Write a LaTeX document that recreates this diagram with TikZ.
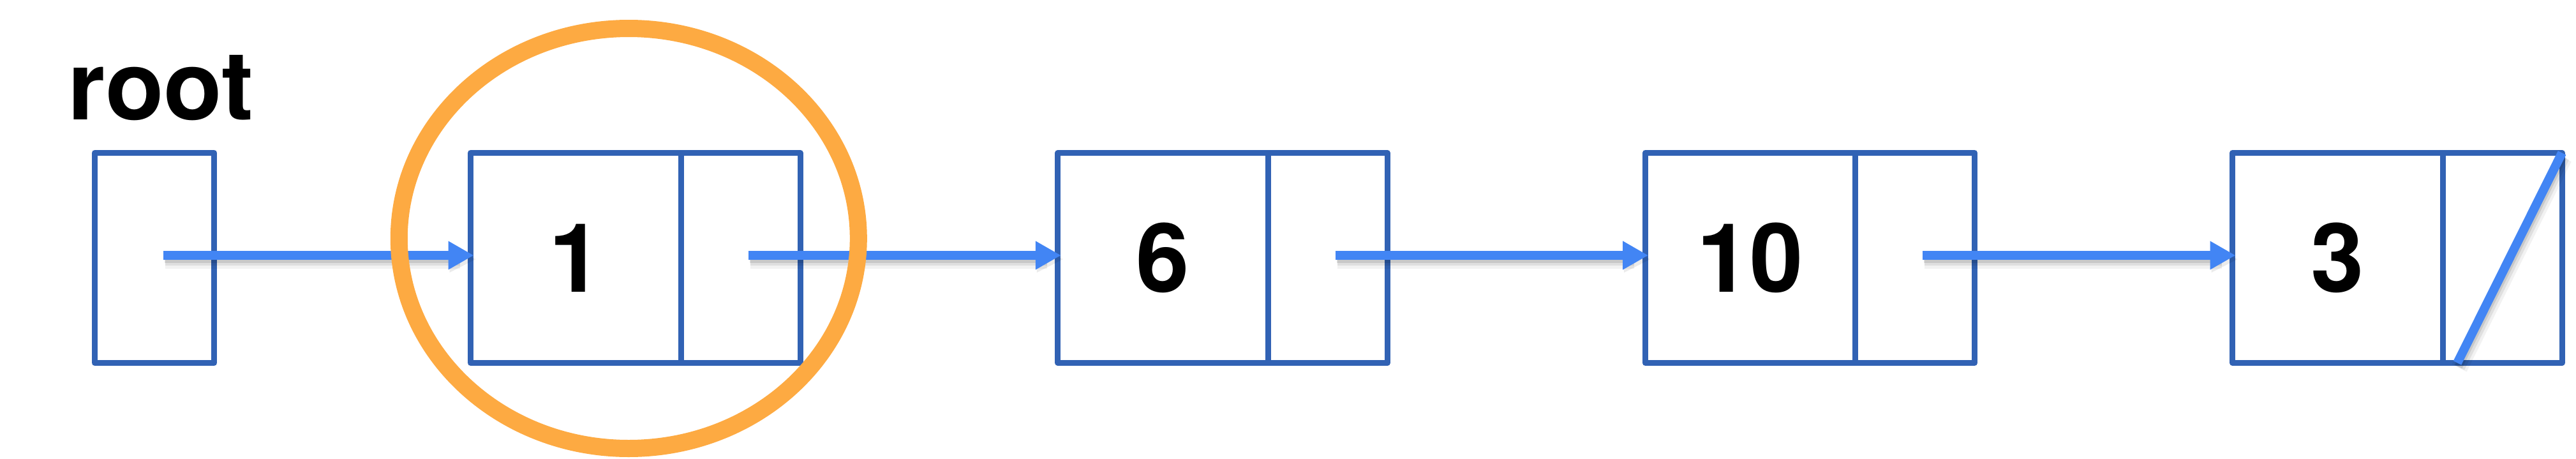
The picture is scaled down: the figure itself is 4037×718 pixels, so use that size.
\documentclass[tikz,border=0pt]{standalone}
\usepackage{fontspec}
\setmainfont{TeX Gyre Heros}
\usetikzlibrary{arrows.meta,shapes.geometric}
\definecolor{boxblue}{RGB}{49,98,180}
\definecolor{ptrblue}{RGB}{66,133,244}
\definecolor{ringorange}{RGB}{253,170,66}
\begin{document}
\begin{tikzpicture}[x=1pt,y=-1pt,
  cell/.style={draw=boxblue, line width=9pt, line join=round, rectangle, inner sep=0pt, outer sep=0pt, minimum height=329pt, font=\fontsize{150}{150}\selectfont\bfseries},
  valcell/.style={cell, minimum width=329.5pt},
  ptrcell/.style={cell, minimum width=187pt},
  ptr/.style={draw=ptrblue, line width=14pt, -{Triangle[length=40pt,width=42pt]}},
  shadowA/.style={draw=black, line width=26pt, opacity=0.05, transform canvas={shift={(3pt,-8pt)}}},
  shadowB/.style={draw=black, line width=18pt, opacity=0.08, transform canvas={shift={(3pt,-7pt)}}},
  shadowC/.style={draw=black, line width=12pt, opacity=0.10, transform canvas={shift={(2pt,-6pt)}}},
  nullline/.style={draw=ptrblue, line width=14pt},
  ring/.style={draw=ringorange, line width=27pt, ellipse, inner sep=0pt, outer sep=0pt, minimum width=720pt, minimum height=658pt},
  lbl/.style={font=\fontsize{150}{150}\selectfont\bfseries, inner sep=0pt}
]
\useasboundingbox (0,0) rectangle (4037,718);

% label
\node[lbl, anchor=base] (rootlbl) at (252,187) {root};

% root pointer box
\node[ptrcell] (root) at (242,404) {};

% list nodes
\node[valcell] (v1) at (902.25,404) {1};
\node[ptrcell, anchor=west] (p1) at (v1.east) {};
\node[valcell] (v2) at (1822.6,404) {6};
\node[ptrcell, anchor=west] (p2) at (v2.east) {};
\node[valcell] (v3) at (2742.9,404) {10};
\node[ptrcell, anchor=west] (p3) at (v3.east) {};
\node[valcell] (v4) at (3663.25,404) {3};
\node[ptrcell, anchor=west] (p4) at (v4.east) {};

% soft shadows under the pointers
\foreach \s in {shadowA,shadowB,shadowC}{
  \draw[\s] ([shift={(14pt,4pt)}]root.center) -- ([shift={(-20pt,4pt)}]v1.west);
  \draw[\s] ([shift={(12pt,4pt)}]p1.center) -- ([shift={(-20pt,4pt)}]v2.west);
  \draw[\s] ([shift={(12pt,4pt)}]p2.center) -- ([shift={(-20pt,4pt)}]v3.west);
  \draw[\s] ([shift={(12pt,4pt)}]p3.center) -- ([shift={(-20pt,4pt)}]v4.west);
  \draw[\s] ([xshift=23pt]p4.south west) -- (p4.north east);
}
\foreach \a/\b in {root/v1,p1/v2,p2/v3,p3/v4}{
  \fill[black, opacity=0.08, transform canvas={shift={(3pt,-6pt)}}]
    ([shift={(-36pt,25pt)}]\b.west) -- ([shift={(5pt,4pt)}]\b.west) -- ([shift={(-36pt,-17pt)}]\b.west) -- cycle;
}

% pointers
\draw[ptr] ([shift={(14pt,4pt)}]root.center) -- ([shift={(5pt,4pt)}]v1.west);
\draw[ptr] ([shift={(12pt,4pt)}]p1.center) -- ([shift={(5pt,4pt)}]v2.west);
\draw[ptr] ([shift={(12pt,4pt)}]p2.center) -- ([shift={(5pt,4pt)}]v3.west);
\draw[ptr] ([shift={(12pt,4pt)}]p3.center) -- ([shift={(5pt,4pt)}]v4.west);
\draw[nullline] ([xshift=23pt]p4.south west) -- (p4.north east);

% highlight ring
\node[ring] (hl) at (985.3,373.5) {};
\end{tikzpicture}
\end{document}
